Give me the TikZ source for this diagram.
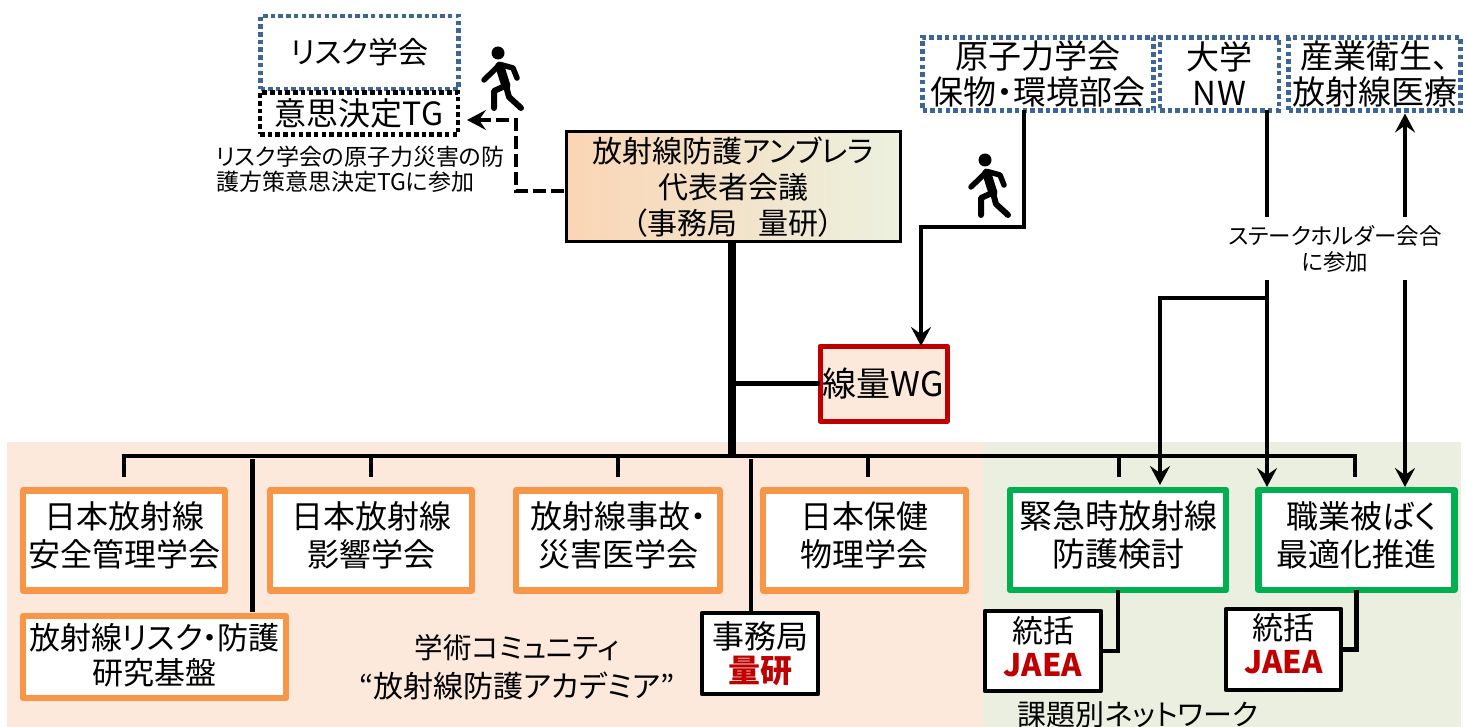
\documentclass[tikz,border=0pt]{standalone}
\usepackage{fontspec}
\setmainfont[RawFeature=+palt]{Noto Sans CJK JP}
\usetikzlibrary{arrows.meta,calc}
\definecolor{peach}{HTML}{FDE9DB}
\definecolor{sage}{HTML}{EBEFDF}
\definecolor{orangeline}{HTML}{F79646}
\definecolor{greenline}{HTML}{00B050}
\definecolor{redline}{HTML}{C00000}
\definecolor{blueline}{HTML}{3D6595}
\definecolor{gradleft}{HTML}{FBD5B5}
\definecolor{gradright}{HTML}{EBF1DE}
\newcommand{\fs}[2]{\fontsize{#1}{#2}\selectfont}
\tikzset{
  x=1pt,y=-1pt,
  base/.style={inner sep=0pt,outer sep=0pt,align=center,text=black,font=\fs{32}{38}},
  dotbox/.style={base,draw=blueline,line width=4.5pt,dash pattern=on 4.5pt off 3.2pt,fill=white},
  orangebox/.style={base,draw=orangeline,line width=6.5pt,fill=white,line join=round,text depth=12pt},
  greenbox/.style={base,draw=greenline,line width=6.5pt,fill=white,line join=round,text depth=12pt},
  blackbox/.style={base,draw=black,line width=4.5pt,fill=white,line join=round},
  link/.style={draw=black,line width=4.5pt,line join=miter},
  arrowlink/.style={link,-{Stealth[length=19pt,width=20pt,inset=7pt]}},
  plain/.style={base},
  walker/.pic={
    \fill[black] (0,0) circle (6.5);
    \draw[black,line width=9pt,line cap=round] (1.7,13) -- (8,33);
    \draw[black,line width=5.5pt,line cap=round,line join=round] (1.7,11.7) -- (-14,27);
    \draw[black,line width=5.5pt,line cap=round,line join=round] (3,11.7) -- (15,15) -- (19,25);
    \draw[black,line width=6pt,line cap=round,line join=round] (7,33) -- (-4,38) -- (-4,55);
    \draw[black,line width=6pt,line cap=round,line join=round] (8,33) -- (11,44) -- (23,55);
  }
}
\begin{document}
\begin{tikzpicture}
\useasboundingbox (0,0) rectangle (1467,727);
\fill[white] (0,0) rectangle (1467,727);
\fill[peach] (7,442) rectangle (983,727);
\fill[sage] (983,442) rectangle (1461,727);

% boxes
\node[dotbox,font=\fs{30}{36},minimum width=198pt,minimum height=73pt] (risk) at (359.5,52.5) {リスク学会};
\node[dotbox,draw=black,font=\fs{32}{38},minimum width=198pt,minimum height=42pt] (tg) at (359,113.5) {意思決定TG};
\node[base,font=\fs{30}{36},draw=black,line width=3pt,left color=gradleft,right color=gradright,minimum width=334pt,minimum height=110pt] (umbrella) at (733,187) {放射線防護アンブレラ\\代表者会議\\（事務局\hspace{22pt}量研）};
\node[dotbox,font=\fs{33}{36},minimum width=231pt,minimum height=73pt] (genshi) at (1038,74) {原子力学会\\保物・環境部会};
\node[dotbox,font=\fs{33}{36},minimum width=119pt,minimum height=73pt] (daigaku) at (1219.5,74) {大学\\N\hspace{2pt}W};
\node[dotbox,font=\fs{33}{36},minimum width=172pt,minimum height=73pt] (sangyo) at (1374.5,74) {\hspace{0pt}産業衛生、\\放射線医療};
\node[base,font=\fs{34}{38},draw=redline,line width=5pt,fill=peach,line join=round,minimum width=127pt,minimum height=75pt] (wg) at (883.5,383.5) {線量WG};

\node[orangebox,minimum width=202pt,minimum height=100pt] (anzen) at (124,540.5) {日本放射線\\安全管理学会};
\node[orangebox,minimum width=202pt,minimum height=100pt] (eikyo) at (371,540.5) {日本放射線\\影響学会};
\node[orangebox,minimum width=204pt,minimum height=100pt] (saigai) at (618,540.5) {放射線事故・\\災害医学会};
\node[orangebox,minimum width=203pt,minimum height=100pt] (hoken) at (864.5,540.5) {日本保健\\物理学会};
\node[orangebox,font=\fs{31}{35},text depth=6pt,minimum width=263pt,minimum height=82pt] (kiban) at (154.5,657) {放射線リスク・防護\\研究基盤};
\node[blackbox,font=\fs{32}{34},minimum width=116pt,minimum height=81pt] (jimu) at (760,653.5) {事務局\\\textcolor{redline}{\textbf{量研}}};
\node[greenbox,font=\fs{33}{38},minimum width=216pt,minimum height=100pt] (kinkyu) at (1118,540) {緊急時放射線\\防護検討};
\node[greenbox,minimum width=196pt,minimum height=100pt] (shokugyo) at (1356.5,540) {\hspace{10pt}職業被ばく\\最適化推進};
\node[blackbox,font=\fs{31}{34},text depth=10pt,minimum width=116pt,minimum height=80pt] (toka) at (1043,651) {統括\\\textcolor{redline}{\textbf{JAEA}}};
\node[blackbox,font=\fs{31}{34},text depth=13pt,minimum width=115pt,minimum height=81pt] (tokb) at (1283.5,649.5) {統括\\\textcolor{redline}{\textbf{JAEA}}};

% coordinates
\coordinate (dashtip) at (467,120);
\coordinate (dashbend) at (516,120);
\coordinate (dashstart) at (566,191);
\coordinate (trunkbase) at (732,456);
\coordinate (busl) at (124,456);
\coordinate (busr) at (1355,456);
\coordinate (wgbend) at (1024,227);
\coordinate (wgbendb) at (921,227);
\coordinate (lineU) at (1267,0);
\coordinate (lineS) at (1405,0);
\coordinate (lineK) at (1160,298);

% bus
\draw[link,line width=7.5pt] (umbrella.south -| trunkbase) -- (trunkbase);
\draw[link] (trunkbase |- wg.west) -- (wg.west);
\draw[link,line cap=butt] (124,477) -- (busl) -- (busr) -- (1355,477);
\draw[link] (371,456) -- (371,477);
\draw[link] (618,456) -- (618,477);
\draw[link] (868,456) -- (868,477);
\draw[link] (1119,456) -- (1119,477);
\draw[link] (252.5,459) -- (252.5,612);
\draw[link] (751,459) -- (751,611);

% connectors
\draw[link,dash pattern=on 13pt off 5pt,{Stealth[length=19pt,width=20pt,inset=7pt]}-] (dashtip) -- (dashbend) -- (dashbend |- dashstart) -- (dashstart);
\draw[arrowlink] (genshi.south -| wgbend) -- (wgbend) -- (wgbendb) -- (wgbendb |- wg.north);
\draw[arrowlink,shorten >=3pt] (lineU |- daigaku.south) -- (lineU |- shokugyo.north);
\draw[arrowlink,shorten >=5pt] (lineU |- lineK) -- (lineK) -- (lineK |- kinkyu.north);
\draw[arrowlink,{Stealth[length=19pt,width=20pt,inset=7pt]}-{Stealth[length=19pt,width=20pt,inset=7pt]},shorten <=3pt,shorten >=3pt] (lineS |- sangyo.south) -- (lineS |- shokugyo.north);
\draw[link] (kinkyu.south) -- (kinkyu.south |- toka.east) -- (toka.east);
\draw[link] (shokugyo.south) -- (shokugyo.south |- tokb.east) -- (tokb.east);

% labels
\node[plain,fill=white,font=\fs{22.5}{26},minimum width=210pt,minimum height=63pt] (stake) at (1335,248.5) {ステークホルダー会合\\に参加};
\node[plain,align=left,anchor=west,font=\fs{23}{25}] (caption) at (216,169) {リスク学会の原子力災害の防\\護方策意思決定TGに参加};
\node[plain,font=\fs{28.5}{39}] (gakujutsu) at (517,667) {学術コミュニティ\\{\fs{30}{39}“放射線防護アカデミア”}};
\node[plain,font=\fs{29}{39}] (kadai) at (1138,715) {課題別ネットワーク};

\pic at (498,53) {walker};
\pic at (985,160) {walker};
\end{tikzpicture}
\end{document}
